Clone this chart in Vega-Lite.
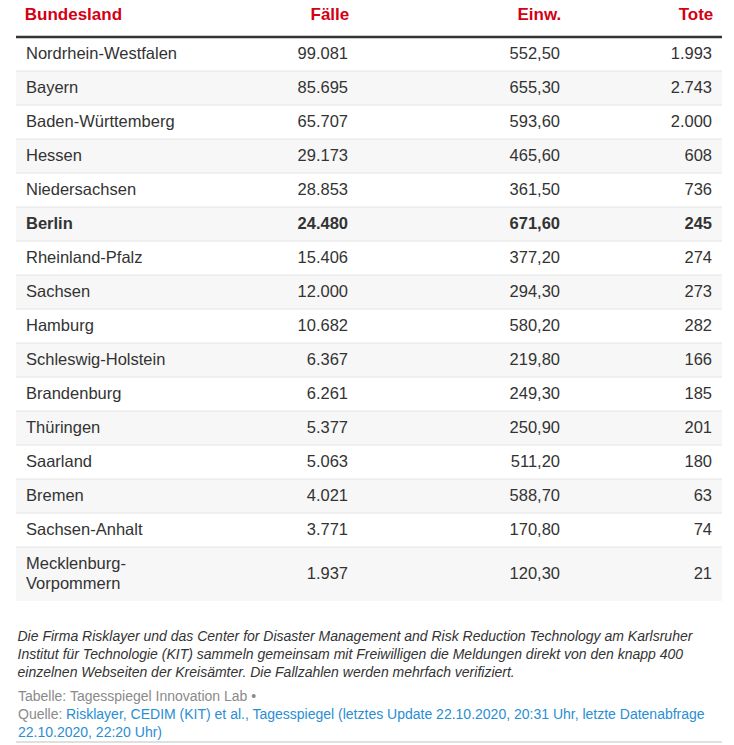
{
  "$schema": "https://vega.github.io/schema/vega-lite/v6.json",
  "padding": {"left": 14, "top": 5, "right": 0, "bottom": 0},
  "background": "#ffffff",
  "config": {
    "font": "Liberation Sans",
    "view": {"stroke": null},
    "locale": {"number": {"decimal": ",", "thousands": ".", "grouping": [3], "currency": ["", " €"]}}
  },
  "datasets": {
    "laender": [
      {"Bundesland": "Nordrhein-Westfalen", "Faelle": 99081, "Einw": 552.5, "Tote": 1993},
      {"Bundesland": "Bayern", "Faelle": 85695, "Einw": 655.3, "Tote": 2743},
      {"Bundesland": "Baden-Württemberg", "Faelle": 65707, "Einw": 593.6, "Tote": 2000},
      {"Bundesland": "Hessen", "Faelle": 29173, "Einw": 465.6, "Tote": 608},
      {"Bundesland": "Niedersachsen", "Faelle": 28853, "Einw": 361.5, "Tote": 736},
      {"Bundesland": "Berlin", "Faelle": 24480, "Einw": 671.6, "Tote": 245},
      {"Bundesland": "Rheinland-Pfalz", "Faelle": 15406, "Einw": 377.2, "Tote": 274},
      {"Bundesland": "Sachsen", "Faelle": 12000, "Einw": 294.3, "Tote": 273},
      {"Bundesland": "Hamburg", "Faelle": 10682, "Einw": 580.2, "Tote": 282},
      {"Bundesland": "Schleswig-Holstein", "Faelle": 6367, "Einw": 219.8, "Tote": 166},
      {"Bundesland": "Brandenburg", "Faelle": 6261, "Einw": 249.3, "Tote": 185},
      {"Bundesland": "Thüringen", "Faelle": 5377, "Einw": 250.9, "Tote": 201},
      {"Bundesland": "Saarland", "Faelle": 5063, "Einw": 511.2, "Tote": 180},
      {"Bundesland": "Bremen", "Faelle": 4021, "Einw": 588.7, "Tote": 63},
      {"Bundesland": "Sachsen-Anhalt", "Faelle": 3771, "Einw": 170.8, "Tote": 74},
      {"Bundesland": "Mecklenburg-Vorpommern", "Faelle": 1937, "Einw": 120.3, "Tote": 21}
    ],
    "quellen": [
      {"Zeile": 1, "Art": "Hinweis", "Text": "Tabelle: Tagesspiegel Innovation Lab •"},
      {"Zeile": 2, "Art": "Hinweis", "Text": "Quelle:"},
      {"Zeile": 2, "Art": "Link", "Text": "Risklayer, CEDIM (KIT) et al., Tagesspiegel (letztes Update 22.10.2020, 20:31 Uhr, letzte Datenabfrage"},
      {"Zeile": 3, "Art": "Link", "Text": "22.10.2020, 22:20 Uhr)"}
    ]
  },
  "spacing": 29,
  "vconcat": [
    {
      "bounds": "flush",
      "spacing": 0,
      "columns": 4,
      "concat": [
        {
          "width": 200, "height": {"step": 34},
          "title": {"text": "Bundesland", "anchor": "start", "dx": 10, "baseline": "alphabetic", "offset": -1, "fontSize": 17, "fontWeight": "bold", "color": "#d40014"},
          "data": {"name": "laender"},
          "transform": [{"window": [{"op": "row_number", "as": "nr"}]}, {"filter": "datum.nr <= 15"}],
          "encoding": {"y": {"field": "Bundesland", "type": "nominal", "sort": null, "axis": null, "scale": {"type": "band", "paddingInner": 0, "paddingOuter": 0}}},
          "layer": [
            {"mark": {"type": "rect"}, "encoding": {"x": {"value": 0}, "x2": {"value": "width"}, "color": {"condition": {"test": "datum.nr % 2 == 0", "value": "#f7f7f7"}, "value": "#ffffff"}}},
            {"mark": {"type": "rule"}, "encoding": {"y": {"field": "Bundesland", "type": "nominal", "sort": null, "bandPosition": 0}, "color": {"condition": {"test": "datum.nr == 1", "value": "#333333"}, "value": "#e4e4e4"}, "strokeWidth": {"condition": {"test": "datum.nr == 1", "value": 2.5}, "value": 1}}},
            {"mark": {"type": "text", "align": "left", "dx": 10, "fontSize": 16.5, "color": "#333333", "fontWeight": {"expr": "datum.Bundesland == 'Berlin' ? 'bold' : 'normal'"}}, "encoding": {"x": {"value": 0}, "text": {"field": "Bundesland"}}}
          ]
        },
        {
          "width": 142, "height": {"step": 34},
          "title": {"text": "Fälle", "anchor": "end", "dx": -10, "baseline": "alphabetic", "offset": -1, "fontSize": 17, "fontWeight": "bold", "color": "#d40014"},
          "data": {"name": "laender"},
          "transform": [{"window": [{"op": "row_number", "as": "nr"}]}, {"filter": "datum.nr <= 15"}],
          "encoding": {"y": {"field": "Bundesland", "type": "nominal", "sort": null, "axis": null, "scale": {"type": "band", "paddingInner": 0, "paddingOuter": 0}}},
          "layer": [
            {"mark": {"type": "rect"}, "encoding": {"x": {"value": 0}, "x2": {"value": "width"}, "color": {"condition": {"test": "datum.nr % 2 == 0", "value": "#f7f7f7"}, "value": "#ffffff"}}},
            {"mark": {"type": "rule"}, "encoding": {"y": {"field": "Bundesland", "type": "nominal", "sort": null, "bandPosition": 0}, "color": {"condition": {"test": "datum.nr == 1", "value": "#333333"}, "value": "#e4e4e4"}, "strokeWidth": {"condition": {"test": "datum.nr == 1", "value": 2.5}, "value": 1}}},
            {"mark": {"type": "text", "align": "right", "dx": -10, "fontSize": 16.5, "color": "#333333", "fontWeight": {"expr": "datum.Bundesland == 'Berlin' ? 'bold' : 'normal'"}}, "encoding": {"x": {"value": "width"}, "text": {"field": "Faelle", "type": "quantitative", "format": ",d"}}}
          ]
        },
        {
          "width": 212, "height": {"step": 34},
          "title": {"text": "Einw.", "anchor": "end", "dx": -10, "baseline": "alphabetic", "offset": -1, "fontSize": 17, "fontWeight": "bold", "color": "#d40014"},
          "data": {"name": "laender"},
          "transform": [{"window": [{"op": "row_number", "as": "nr"}]}, {"filter": "datum.nr <= 15"}],
          "encoding": {"y": {"field": "Bundesland", "type": "nominal", "sort": null, "axis": null, "scale": {"type": "band", "paddingInner": 0, "paddingOuter": 0}}},
          "layer": [
            {"mark": {"type": "rect"}, "encoding": {"x": {"value": 0}, "x2": {"value": "width"}, "color": {"condition": {"test": "datum.nr % 2 == 0", "value": "#f7f7f7"}, "value": "#ffffff"}}},
            {"mark": {"type": "rule"}, "encoding": {"y": {"field": "Bundesland", "type": "nominal", "sort": null, "bandPosition": 0}, "color": {"condition": {"test": "datum.nr == 1", "value": "#333333"}, "value": "#e4e4e4"}, "strokeWidth": {"condition": {"test": "datum.nr == 1", "value": 2.5}, "value": 1}}},
            {"mark": {"type": "text", "align": "right", "dx": -10, "fontSize": 16.5, "color": "#333333", "fontWeight": {"expr": "datum.Bundesland == 'Berlin' ? 'bold' : 'normal'"}}, "encoding": {"x": {"value": "width"}, "text": {"field": "Einw", "type": "quantitative", "format": ",.2f"}}}
          ]
        },
        {
          "width": 152, "height": {"step": 34},
          "title": {"text": "Tote", "anchor": "end", "dx": -10, "baseline": "alphabetic", "offset": -1, "fontSize": 17, "fontWeight": "bold", "color": "#d40014"},
          "data": {"name": "laender"},
          "transform": [{"window": [{"op": "row_number", "as": "nr"}]}, {"filter": "datum.nr <= 15"}],
          "encoding": {"y": {"field": "Bundesland", "type": "nominal", "sort": null, "axis": null, "scale": {"type": "band", "paddingInner": 0, "paddingOuter": 0}}},
          "layer": [
            {"mark": {"type": "rect"}, "encoding": {"x": {"value": 0}, "x2": {"value": "width"}, "color": {"condition": {"test": "datum.nr % 2 == 0", "value": "#f7f7f7"}, "value": "#ffffff"}}},
            {"mark": {"type": "rule"}, "encoding": {"y": {"field": "Bundesland", "type": "nominal", "sort": null, "bandPosition": 0}, "color": {"condition": {"test": "datum.nr == 1", "value": "#333333"}, "value": "#e4e4e4"}, "strokeWidth": {"condition": {"test": "datum.nr == 1", "value": 2.5}, "value": 1}}},
            {"mark": {"type": "text", "align": "right", "dx": -10, "fontSize": 16.5, "color": "#333333", "fontWeight": {"expr": "datum.Bundesland == 'Berlin' ? 'bold' : 'normal'"}}, "encoding": {"x": {"value": "width"}, "text": {"field": "Tote", "type": "quantitative", "format": ",d"}}}
          ]
        },
        {
          "width": 200, "height": {"step": 54},
          "data": {"name": "laender"},
          "transform": [{"window": [{"op": "row_number", "as": "nr"}]}, {"filter": "datum.nr == 16"}],
          "encoding": {"y": {"field": "Bundesland", "type": "nominal", "sort": null, "axis": null, "scale": {"type": "band", "paddingInner": 0, "paddingOuter": 0}}},
          "layer": [
            {"mark": {"type": "rect"}, "encoding": {"x": {"value": 0}, "x2": {"value": "width"}, "color": {"condition": {"test": "datum.nr % 2 == 0", "value": "#f7f7f7"}, "value": "#ffffff"}}},
            {"mark": {"type": "rule"}, "encoding": {"y": {"field": "Bundesland", "type": "nominal", "sort": null, "bandPosition": 0}, "color": {"value": "#e4e4e4"}, "strokeWidth": {"value": 1}}},
            {"mark": {"type": "text", "align": "left", "dx": 10, "dy": -10, "fontSize": 16.5, "color": "#333333", "lineHeight": 20, "lineBreak": "\n", "text": {"expr": "replace(datum.Bundesland, '-', '-\\n')"}}, "encoding": {"x": {"value": 0}}}
          ]
        },
        {
          "width": 142, "height": {"step": 54},
          "data": {"name": "laender"},
          "transform": [{"window": [{"op": "row_number", "as": "nr"}]}, {"filter": "datum.nr == 16"}],
          "encoding": {"y": {"field": "Bundesland", "type": "nominal", "sort": null, "axis": null, "scale": {"type": "band", "paddingInner": 0, "paddingOuter": 0}}},
          "layer": [
            {"mark": {"type": "rect"}, "encoding": {"x": {"value": 0}, "x2": {"value": "width"}, "color": {"condition": {"test": "datum.nr % 2 == 0", "value": "#f7f7f7"}, "value": "#ffffff"}}},
            {"mark": {"type": "rule"}, "encoding": {"y": {"field": "Bundesland", "type": "nominal", "sort": null, "bandPosition": 0}, "color": {"value": "#e4e4e4"}, "strokeWidth": {"value": 1}}},
            {"mark": {"type": "text", "align": "right", "dx": -10, "fontSize": 16.5, "color": "#333333"}, "encoding": {"x": {"value": "width"}, "text": {"field": "Faelle", "type": "quantitative", "format": ",d"}}}
          ]
        },
        {
          "width": 212, "height": {"step": 54},
          "data": {"name": "laender"},
          "transform": [{"window": [{"op": "row_number", "as": "nr"}]}, {"filter": "datum.nr == 16"}],
          "encoding": {"y": {"field": "Bundesland", "type": "nominal", "sort": null, "axis": null, "scale": {"type": "band", "paddingInner": 0, "paddingOuter": 0}}},
          "layer": [
            {"mark": {"type": "rect"}, "encoding": {"x": {"value": 0}, "x2": {"value": "width"}, "color": {"condition": {"test": "datum.nr % 2 == 0", "value": "#f7f7f7"}, "value": "#ffffff"}}},
            {"mark": {"type": "rule"}, "encoding": {"y": {"field": "Bundesland", "type": "nominal", "sort": null, "bandPosition": 0}, "color": {"value": "#e4e4e4"}, "strokeWidth": {"value": 1}}},
            {"mark": {"type": "text", "align": "right", "dx": -10, "fontSize": 16.5, "color": "#333333"}, "encoding": {"x": {"value": "width"}, "text": {"field": "Einw", "type": "quantitative", "format": ",.2f"}}}
          ]
        },
        {
          "width": 152, "height": {"step": 54},
          "data": {"name": "laender"},
          "transform": [{"window": [{"op": "row_number", "as": "nr"}]}, {"filter": "datum.nr == 16"}],
          "encoding": {"y": {"field": "Bundesland", "type": "nominal", "sort": null, "axis": null, "scale": {"type": "band", "paddingInner": 0, "paddingOuter": 0}}},
          "layer": [
            {"mark": {"type": "rect"}, "encoding": {"x": {"value": 0}, "x2": {"value": "width"}, "color": {"condition": {"test": "datum.nr % 2 == 0", "value": "#f7f7f7"}, "value": "#ffffff"}}},
            {"mark": {"type": "rule"}, "encoding": {"y": {"field": "Bundesland", "type": "nominal", "sort": null, "bandPosition": 0}, "color": {"value": "#e4e4e4"}, "strokeWidth": {"value": 1}}},
            {"mark": {"type": "text", "align": "right", "dx": -10, "fontSize": 16.5, "color": "#333333"}, "encoding": {"x": {"value": "width"}, "text": {"field": "Tote", "type": "quantitative", "format": ",d"}}}
          ]
        }
      ]
    },
    {
      "width": 706, "height": {"step": 18},
      "title": {
        "text": [
          "Die Firma Risklayer und das Center for Disaster Management and Risk Reduction Technology am Karlsruher",
          "Institut für Technologie (KIT) sammeln gemeinsam mit Freiwilligen die Meldungen direkt von den knapp 400",
          "einzelnen Webseiten der Kreisämter. Die Fallzahlen werden mehrfach verifiziert."
        ],
        "anchor": "start", "dx": 2, "fontStyle": "italic", "fontWeight": "normal", "fontSize": 14, "color": "#333333", "lineHeight": 18, "offset": 8
      },
      "data": {"name": "quellen"},
      "encoding": {
        "y": {"field": "Zeile", "type": "ordinal", "axis": null, "scale": {"type": "band", "paddingInner": 0, "paddingOuter": 0}}
      },
      "layer": [
        {"mark": {"type": "rule", "color": "#dddddd", "strokeWidth": 1}, "encoding": {"y": {"value": "height"}}},
        {"transform": [{"filter": "datum.Art == 'Hinweis'"}], "mark": {"type": "text", "align": "left", "dx": 2, "fontSize": 14, "color": "#8a8a8a"}, "encoding": {"x": {"value": 0}, "text": {"field": "Text"}}},
        {"transform": [{"filter": "datum.Art == 'Link' && datum.Zeile == 2"}], "mark": {"type": "text", "align": "left", "dx": 50, "fontSize": 14, "color": "#2a8ed3"}, "encoding": {"x": {"value": 0}, "text": {"field": "Text"}}},
        {"transform": [{"filter": "datum.Art == 'Link' && datum.Zeile == 3"}], "mark": {"type": "text", "align": "left", "dx": 2, "fontSize": 14, "color": "#2a8ed3"}, "encoding": {"x": {"value": 0}, "text": {"field": "Text"}}}
      ]
    }
  ]
}
